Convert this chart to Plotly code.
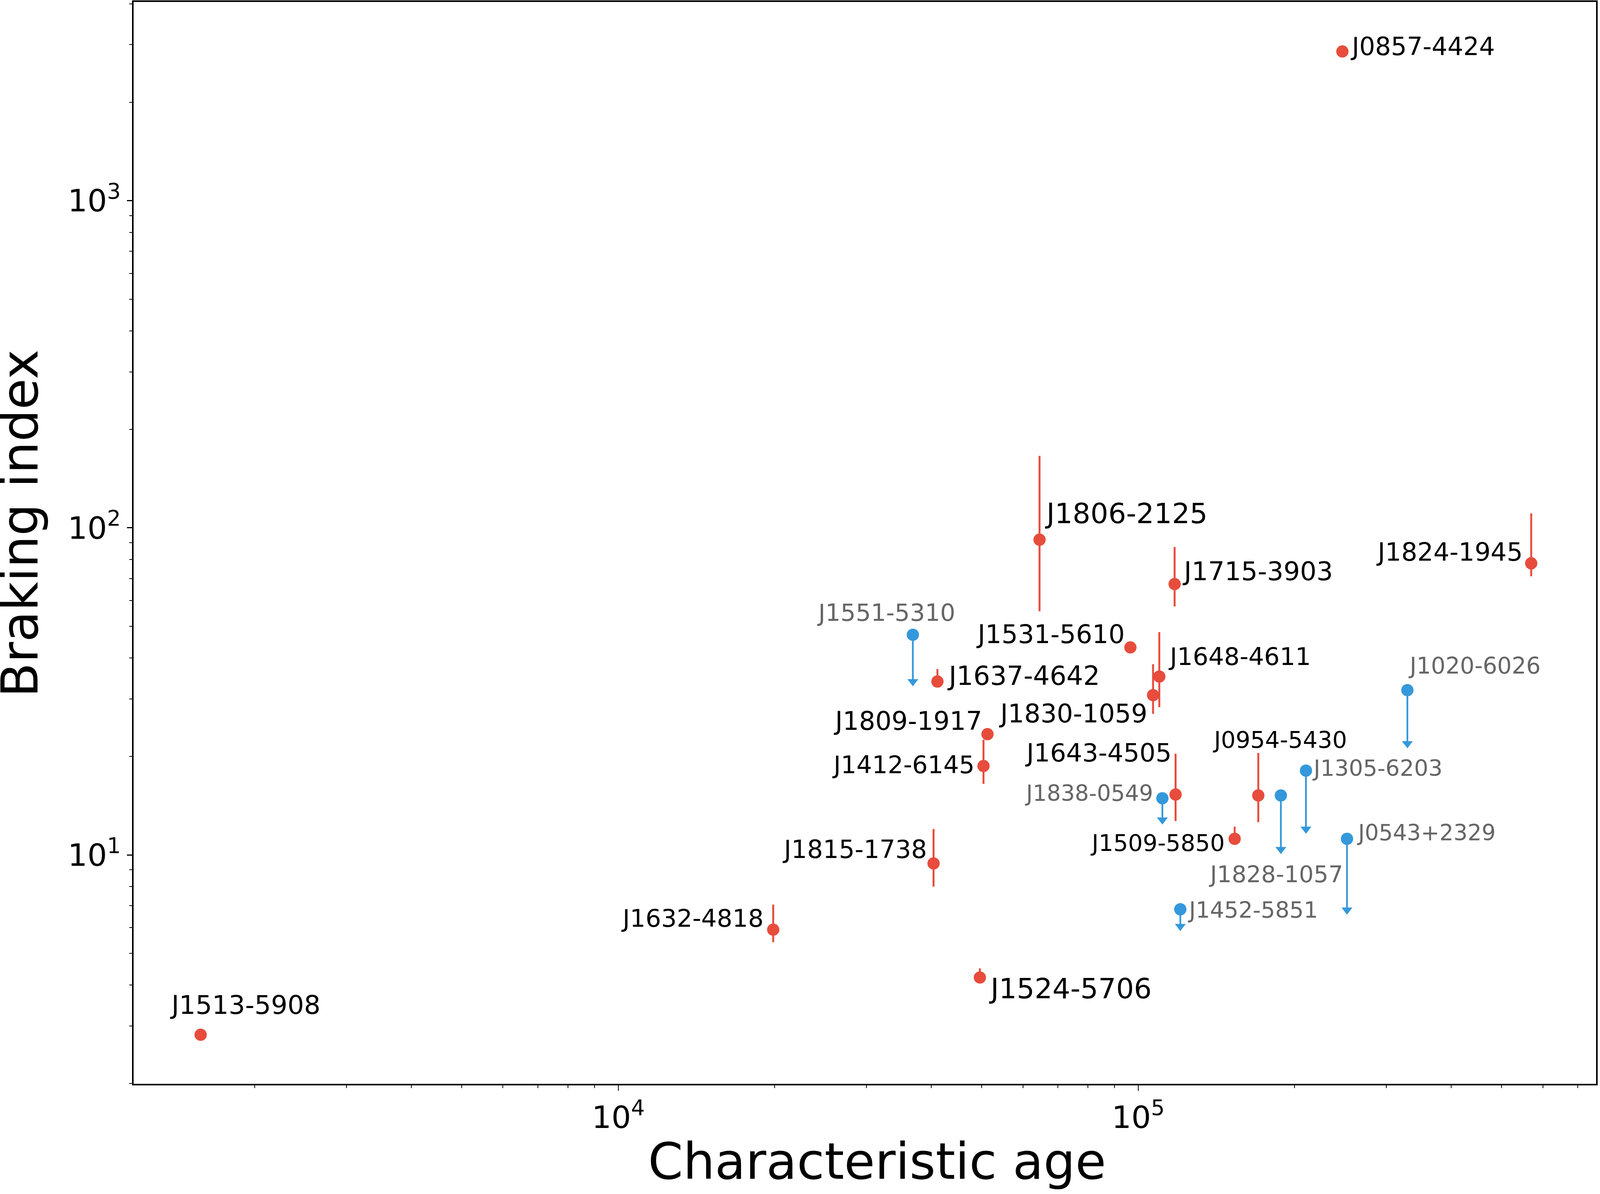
import numpy as np
import plotly.graph_objects as go

# ---------------- data ----------------
# pulsars with a measured braking index (red, with error bars)
meas_names = ["J0857-4424", "J1806-2125", "J1715-3903", "J1824-1945", "J1531-5610",
              "J1637-4642", "J1648-4611", "J1830-1059", "J1809-1917", "J1412-6145",
              "J1643-4505", "J0954-5430", "J1509-5850", "J1815-1738", "J1632-4818",
              "J1524-5706", "J1513-5908"]
meas_age = [2.47e5, 6.46e4, 1.175e5, 5.70e5, 9.66e4,
            4.11e4, 1.098e5, 1.068e5, 5.13e4, 5.04e4,
            1.18e5, 1.702e5, 1.533e5, 4.04e4, 1.986e4,
            4.96e4, 1573]
meas_n = [2860, 92.0, 67.3, 77.9, 43.1,
          33.9, 35.1, 30.8, 23.4, 18.7,
          15.3, 15.2, 11.2, 9.42, 5.91,
          4.22, 2.82]
meas_hi = [2860, 166, 87.4, 110.7, 43.1,
           37.0, 48.0, 38.3, 23.4, 22.5,
           20.4, 20.5, 12.2, 12.0, 7.05,
           4.50, 2.82]
meas_lo = [2860, 55.6, 57.5, 71.1, 43.1,
           33.9, 28.3, 27.0, 23.4, 16.5,
           12.7, 12.6, 11.2, 8.0, 5.41,
           4.22, 2.82]

# pulsars with an upper limit only (blue, with downward arrows)
lim_names = ["J1551-5310", "J1020-6026", "J1305-6203", "J1828-1057",
             "J1838-0549", "J0543+2329", "J1452-5851"]
lim_age = [3.686e4, 3.294e5, 2.102e5, 1.881e5, 1.113e5, 2.521e5, 1.205e5]
lim_n = [47.1, 31.9, 18.1, 15.2, 14.9, 11.2, 6.82]
lim_end = [33.9, 21.9, 12.0, 10.4, 12.8, 6.79, 6.05]

x_tickvals = [1e4, 1e5]
x_ticktext = ["10<sup>4</sup>", "10<sup>5</sup>"]
y_tickvals = [10, 100, 1000]
y_ticktext = ["10<sup>1</sup>", "10<sup>2</sup>", "10<sup>3</sup>"]

# ---------------- styles ----------------
RED = "#e74c3c"
BLUE = "#3498db"
GRAY = "#666666"
FONT = "DejaVu Sans"

# sizes are written in reference-image pixels and converted to page pixels
FX = 1 / 1.114   # horizontal / font scale
FY = 1.0         # vertical scale


def px(v):
    return v * FX


def py(v):
    return v * FY


# label placement: anchor, x-shift, y-shift, font size (reference pixels)
label_style = {
    "J0857-4424": ("left", 21, 13, 71),
    "J1806-2125": ("left", 13, 67, 80),
    "J1715-3903": ("left", 20, 33, 74),
    "J1824-1945": ("right", -22, 29, 72),
    "J1531-5610": ("right", -14, 34, 73),
    "J1637-4642": ("left", 26, 14, 75),
    "J1648-4611": ("left", 24, 51, 70),
    "J1830-1059": ("right", -14, -47, 73),
    "J1809-1917": ("right", -13, 34, 73),
    "J1412-6145": ("right", -23, 3, 70),
    "J1643-4505": ("right", -10, 107, 72),
    "J0954-5430": ("center", 61, 142, 66),
    "J1509-5850": ("right", -26, -11, 66),
    "J1815-1738": ("right", -17, 36, 71),
    "J1632-4818": ("right", -25, 29, 70),
    "J1524-5706": ("left", 24, -28, 80),
    "J1513-5908": ("left", -90, 76, 74),
    "J1551-5310": ("center", -76, 57, 68),
    "J1020-6026": ("left", 0, 62, 65),
    "J1305-6203": ("left", 17, 6, 64),
    "J1828-1057": ("center", -15, -202, 66),
    "J1838-0549": ("right", -24, 13, 63),
    "J0543+2329": ("left", 26, 15, 63),
    "J1452-5851": ("left", 19, -2, 64),
}

fig = go.Figure()

# red measured points with asymmetric error bars
err_plus = [h - v for h, v in zip(meas_hi, meas_n)]
err_minus = [v - l for v, l in zip(meas_n, meas_lo)]
fig.add_trace(go.Scatter(
    x=meas_age, y=meas_n, mode="markers",
    marker=dict(color=RED, size=px(35), line=dict(width=0)),
    error_y=dict(type="data", symmetric=False, array=err_plus, arrayminus=err_minus,
                 color=RED, thickness=px(5.5), width=0),
    showlegend=False, hoverinfo="skip"))

# blue upper limits: line down to the arrow head
lim_minus = [v - e for v, e in zip(lim_n, lim_end)]
fig.add_trace(go.Scatter(
    x=lim_age, y=lim_n, mode="markers",
    marker=dict(color=BLUE, size=px(35), line=dict(width=0)),
    error_y=dict(type="data", symmetric=False, array=[0] * len(lim_n), arrayminus=lim_minus,
                 color=BLUE, thickness=px(5), width=0),
    showlegend=False, hoverinfo="skip"))
fig.add_trace(go.Scatter(
    x=lim_age, y=lim_end, mode="markers",
    marker=dict(color=BLUE, size=px(27), symbol="triangle-down", line=dict(width=0)),
    showlegend=False, hoverinfo="skip"))


# labels
def add_labels(names, ages, ns, color):
    for nm, a, v in zip(names, ages, ns):
        anchor, dx, dy, sz = label_style[nm]
        fig.add_annotation(
            x=np.log10(a), y=np.log10(v), xref="x", yref="y",
            text=nm, showarrow=False, xanchor=anchor, yanchor="middle",
            xshift=px(dx), yshift=py(dy),
            font=dict(family=FONT, size=px(sz), color=color))


add_labels(meas_names, meas_age, meas_n, "black")
add_labels(lim_names, lim_age, lim_n, GRAY)

# axis titles (paper = whole page, margins are zero)
fig.add_annotation(text="Characteristic age", xref="paper", yref="paper",
                   x=0.5482, y=0.0272, xanchor="center", yanchor="middle",
                   showarrow=False, font=dict(family=FONT, size=px(143), color="black"))
fig.add_annotation(text="Braking index", xref="paper", yref="paper",
                   x=0.0125, y=0.5616, xanchor="center", yanchor="middle",
                   textangle=-90, showarrow=False,
                   font=dict(family=FONT, size=px(144), color="black"))

x_minor = [m * 10 ** e for e in (3, 4, 5) for m in range(2, 10)]
y_minor = [m * 10 ** e for e in (0, 1, 2, 3) for m in range(2, 10)]

axis_common = dict(
    showline=True, linecolor="black", linewidth=px(4.5), mirror=True,
    showgrid=False, zeroline=False,
    ticks="outside", tickcolor="black",
    tickfont=dict(family=FONT, size=px(88), color="black"),
)

fig.update_xaxes(type="log", range=[3.0675, 5.8808], domain=[0.0834, 0.9976],
                 tickmode="array", tickvals=x_tickvals, ticktext=x_ticktext,
                 ticklen=py(14), tickwidth=px(2.5),
                 minor=dict(tickmode="array", tickvals=x_minor, ticks="outside",
                            ticklen=py(7), tickwidth=px(2), tickcolor="black", showgrid=False),
                 **axis_common)
fig.update_yaxes(type="log", range=[0.3003, 3.6079], domain=[0.0923, 0.9984],
                 tickmode="array", tickvals=y_tickvals, ticktext=y_ticktext,
                 ticklen=px(14), tickwidth=py(2.5),
                 minor=dict(tickmode="array", tickvals=y_minor, ticks="outside",
                            ticklen=px(7), tickwidth=py(2), tickcolor="black", showgrid=False),
                 **axis_common)

fig.update_layout(
    autosize=True,
    margin=dict(l=0, r=0, t=0, b=0, pad=0),
    paper_bgcolor="white", plot_bgcolor="white",
    font=dict(family=FONT, color="black"),
)

fig.write_html("out.html",
               default_width="100vw", default_height="100vh",
               config={"displayModeBar": False, "responsive": True},
               post_script="document.body.style.margin='0';document.body.style.overflow='hidden';")
